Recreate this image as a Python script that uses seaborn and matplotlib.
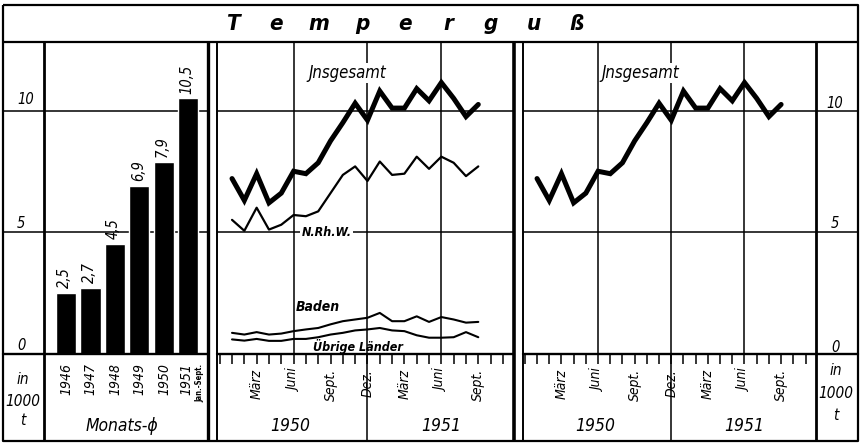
import numpy as np
import pandas as pd
import matplotlib
matplotlib.use("Agg")
import matplotlib.pyplot as plt
import seaborn as sns
from matplotlib.lines import Line2D

# Balken: Monatsdurchschnitt je Jahr (1000 t)
bar_years = ["1946", "1947", "1948", "1949", "1950", "1951"]
bar_values = [2.5, 2.7, 4.5, 6.9, 7.9, 10.5]

# Monatswerte Jan 1950 .. Sept 1951 (Index 0..20)
month_idx = list(range(21))
insgesamt = [7.2, 6.3, 7.4, 6.2, 6.6, 7.5, 7.4, 7.85, 8.75, 9.5, 10.3, 9.6,
             10.8, 10.1, 10.1, 10.9, 10.4, 11.15, 10.5, 9.75, 10.25]
nrhw = [5.5, 5.05, 6.0, 5.1, 5.3, 5.7, 5.65, 5.85, 6.6, 7.35, 7.7, 7.1,
        7.9, 7.35, 7.4, 8.1, 7.6, 8.1, 7.85, 7.3, 7.7]
baden = [0.85, 0.78, 0.88, 0.78, 0.82, 0.92, 0.99, 1.05, 1.2, 1.33, 1.4, 1.47,
         1.67, 1.33, 1.33, 1.53, 1.3, 1.5, 1.4, 1.27, 1.3]
uebrige = [0.58, 0.53, 0.6, 0.52, 0.52, 0.6, 0.6, 0.67, 0.78, 0.85, 0.95, 0.99,
           1.05, 0.95, 0.92, 0.75, 0.65, 0.65, 0.67, 0.88, 0.67]

# Achsenbeschriftung
tick_pos = list(range(-1, 23))
label_pos = [2, 5, 8, 11, 14, 17, 20]
label_names = ["März", "Juni", "Sept.", "Dez.", "März", "Juni", "Sept."]
year_names = ["1950", "1951"]
title_letters = list("Temperguß")

sns.set_style("white")
plt.rcParams["font.family"] = ["DejaVu Sans"]
plt.rcParams["font.style"] = "italic"
plt.rcParams["font.stretch"] = "condensed"
plt.rcParams["text.color"] = "black"
plt.rcParams["xtick.color"] = "black"
plt.rcParams["xtick.labelcolor"] = "black"

W, H = 862, 444
fig = plt.figure(figsize=(W / 100, H / 100), dpi=100)
YMAX = 12.82


def box(x0, x1, y0, y1):
    return [x0 / W, 1 - y1 / H, (x1 - x0) / W, (y1 - y0) / H]


def fline(xs, ys, lw):
    fig.add_artist(Line2D([x / W for x in xs], [1 - y / H for y in ys],
                          color="black", lw=lw, solid_capstyle="butt"))


def base(ax):
    ax.set_ylim(0, YMAX)
    for s in ax.spines.values():
        s.set_visible(False)
    ax.axhline(5, color="black", lw=1.1, zorder=0)
    ax.axhline(10, color="black", lw=1.1, zorder=0)
    ax.axhline(0, color="black", lw=1.7, clip_on=False, zorder=3)
    ax.set_yticks([])
    ax.set_xlabel("")
    ax.set_ylabel("")


# Rahmen
fline([3, 858, 858, 3, 3], [5, 5, 441, 441, 5], 1.6)
fline([3, 858], [42, 42], 1.6)
fline([44, 44], [42, 441], 2.0)
fline([208.5, 208.5], [42, 441], 2.4)
fline([217, 217], [42, 441], 1.4)
fline([514, 514], [42, 441], 2.6)
fline([523, 523], [42, 441], 1.4)
fline([816.5, 816.5], [42, 441], 2.0)

for i, ch in enumerate(title_letters):
    fig.text((233 + i * 43.0) / W, 1 - 24 / H, ch, ha="center", va="center",
             fontsize=16, fontweight="bold")

# linke Spalte
ax_lc = fig.add_axes(box(3, 44, 42, 353.5))
base(ax_lc)
ax_lc.set_xlim(0, 1)
ax_lc.set_xticks([])
for v, yy in [("10", 10.25), ("5", 5.16), ("0", 0.14)]:
    ax_lc.text(0.34, yy, v, ha="left", va="baseline", fontsize=10.5)
for t, yy in [("in", 379), ("1000", 401), ("t", 420)]:
    fig.text(23 / W, 1 - yy / H, t, ha="center", va="center", fontsize=11)

# rechte Spalte
ax_rc = fig.add_axes(box(816.5, 858, 42, 353.5))
base(ax_rc)
ax_rc.set_xlim(0, 1)
ax_rc.set_xticks([])
for v, yy in [("10", 10.1), ("5", 5.16), ("0", 0.06)]:
    ax_rc.text(0.45, yy, v, ha="center", va="baseline", fontsize=10.5)
for t, yy in [("in", 370), ("1000", 393), ("t", 415)]:
    fig.text(836 / W, 1 - yy / H, t, ha="center", va="center", fontsize=11)

# Balken
ax_bar = fig.add_axes(box(44, 208, 42, 353.5))
sns.barplot(x=bar_years, y=bar_values, color="black", saturation=1,
            width=0.82, ax=ax_bar, zorder=2)
base(ax_bar)
ax_bar.set_xlim(-0.9, 5.8)
ax_bar.set_xticks([])
for i, (yr, v) in enumerate(zip(bar_years, bar_values)):
    ax_bar.text(i - 0.05, v + 0.2, f"{v}".replace(".", ","), rotation=90,
                ha="center", va="bottom", fontsize=10.5)
    ax_bar.text(i - (0.08 if i == 5 else 0), -1.05, yr, rotation=90,
                ha="center", va="center", fontsize=10, clip_on=False)
ax_bar.text(5.47, -1.2, "Jan.-Sept.", rotation=90, ha="center", va="center",
            fontsize=5.5, fontweight="bold", fontstyle="normal", clip_on=False)
ax_bar.text(2.29, -2.98, "Monats-ϕ", ha="center", va="center", fontsize=12.5,
            clip_on=False)

white = dict(facecolor="white", edgecolor="none", pad=1)


def month_axis(ax, x0, x1):
    ax.set_xlim(x0, x1)
    labels = [""] * len(tick_pos)
    for p, n in zip(label_pos, label_names):
        labels[tick_pos.index(p)] = n
    ax.set_xticks(tick_pos, labels)
    ax.tick_params(axis="x", direction="out", length=7.2, width=1.1, pad=4,
                   labelsize=10, labelrotation=90, bottom=True, color="black")
    for v in [5, 11, 17]:
        ax.axvline(v, color="black", lw=1.1, zorder=0)
    ax.plot([11, 11], [0, -3.6], color="black", lw=1.1, clip_on=False)
    ax.text(4.75, -2.98, year_names[0], ha="center", va="center", fontsize=12.5,
            clip_on=False)
    ax.text(17.0, -2.98, year_names[1], ha="center", va="center", fontsize=12.5,
            clip_on=False)


# mittleres Feld
ax_mid = fig.add_axes(box(217, 514, 42, 353.5))
sns.lineplot(x=month_idx, y=insgesamt, color="black", lw=3.6, ax=ax_mid,
             solid_joinstyle="miter")
sns.lineplot(x=month_idx, y=nrhw, color="black", lw=1.6, ax=ax_mid)
sns.lineplot(x=month_idx, y=baden, color="black", lw=1.5, ax=ax_mid)
sns.lineplot(x=month_idx, y=uebrige, color="black", lw=1.5, ax=ax_mid)
base(ax_mid)
month_axis(ax_mid, -1.22, 22.9)
ax_mid.text(9.4, 11.55, "Jnsgesamt", ha="center", va="center", fontsize=12,
            bbox=white)
ax_mid.text(7.7, 4.96, "N.Rh.W.", ha="center", va="center", fontsize=9,
            fontweight="bold", bbox=white)
ax_mid.text(7.0, 1.91, "Baden", ha="center", va="center", fontsize=10,
            fontweight="bold")
ax_mid.text(10.2, 0.27, "Übrige Länder", ha="center", va="center", fontsize=9,
            fontweight="bold")

# rechtes Feld
ax_r = fig.add_axes(box(523, 816.5, 42, 353.5))
sns.lineplot(x=month_idx, y=insgesamt, color="black", lw=3.6, ax=ax_r,
             solid_joinstyle="miter")
base(ax_r)
month_axis(ax_r, -1.15, 22.9)
ax_r.text(8.5, 11.55, "Jnsgesamt", ha="center", va="center", fontsize=12,
          bbox=white)

fig.savefig("out.png", dpi=100)
